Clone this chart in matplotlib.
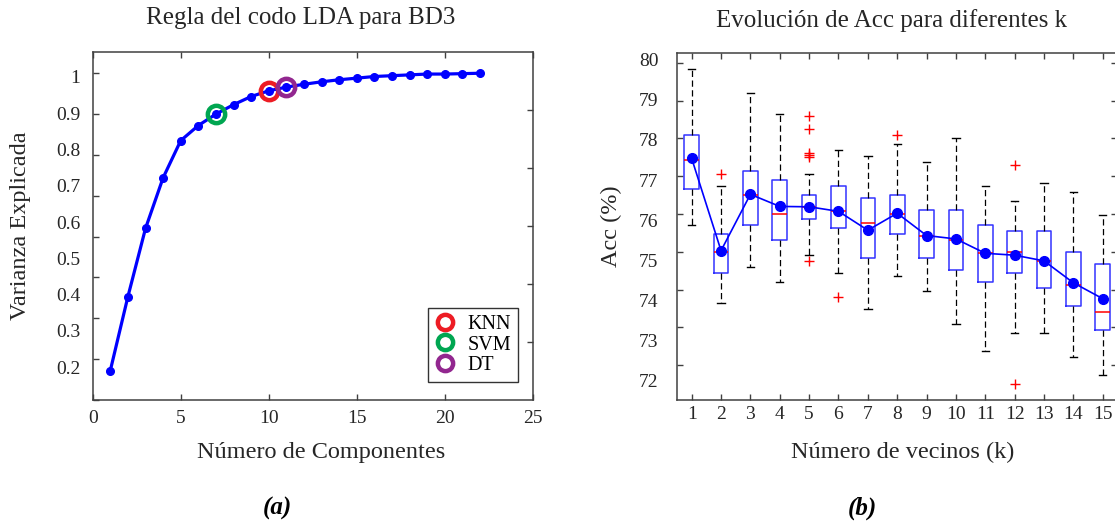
import matplotlib
matplotlib.use("Agg")
import matplotlib.pyplot as plt
from matplotlib.lines import Line2D
import numpy as np

plt.rcParams['font.family'] = ['Liberation Serif', 'DejaVu Serif']
plt.rcParams['axes.linewidth'] = 1.1

# ---- (a) cumulative explained variance of the LDA components on BD3 ----
componentes = list(range(1, 23))
varianza = [0.272, 0.453, 0.620, 0.744, 0.835, 0.872, 0.900, 0.923, 0.943,
            0.957, 0.966, 0.973, 0.979, 0.984, 0.988, 0.992, 0.994, 0.996,
            0.998, 0.998, 0.999, 1.000]
clasificadores = ['KNN', 'SVM', 'DT']
comp_elegidos = [10, 7, 11]
colores_clasif = ['#ED1C24', '#00A651', '#92278F']
ticks_x_a = [0, 5, 10, 15, 20, 25]
ticks_y_a = [0.2, 0.3, 0.4, 0.5, 0.6, 0.7, 0.8, 0.9, 1.0]
etiquetas_y_a = ['0.2', '0.3', '0.4', '0.5', '0.6', '0.7', '0.8', '0.9', '1']

# ---- (b) accuracy distribution over repetitions for each k ----
vecinos = list(range(1, 16))
acc_bigote_sup = [79.83, 76.75, 79.21, 78.65, 77.05, 77.70, 77.53, 77.85,
                  77.37, 78.00, 76.75, 76.34, 76.82, 76.58, 75.97]
acc_q3 = [78.09, 75.46, 77.13, 76.89, 76.49, 76.74, 76.42, 76.49,
          76.10, 76.10, 75.71, 75.55, 75.55, 75.00, 74.67]
acc_mediana = [77.42, 75.00, 76.51, 76.00, 76.19, 76.09, 75.75, 76.00,
               75.43, 75.31, 74.98, 75.00, 74.76, 74.12, 73.40]
acc_q1 = [76.66, 74.43, 75.71, 75.31, 75.86, 75.62, 74.83, 75.46,
          74.83, 74.52, 74.19, 74.44, 74.04, 73.57, 72.93]
acc_bigote_inf = [75.71, 73.64, 74.59, 74.19, 74.92, 74.43, 73.49, 74.35,
                  73.97, 73.09, 72.38, 72.85, 72.85, 72.21, 71.74]
acc_media = [77.47, 75.03, 76.52, 76.20, 76.19, 76.07, 75.57, 76.02,
             75.43, 75.34, 74.96, 74.91, 74.76, 74.18, 73.76]
acc_atipicos = [[], [77.05], [], [], [78.58, 78.26, 77.61, 77.55, 77.52, 74.76],
                [73.81], [], [78.09], [], [], [], [77.29, 71.50], [], [], []]
ticks_y_b = [72, 73, 74, 75, 76, 77, 78, 79, 80]

W, H = 1115, 524
fig = plt.figure(figsize=(W / 100, H / 100), dpi=100)
gris = '#404040'
txt = '#262626'


def rect(x0, y_top, x1, y_bot):
    return [x0 / W, 1 - y_bot / H, (x1 - x0) / W, (y_bot - y_top) / H]


def etiquetas_eje_y(ax, lim, valores, textos, pad, ylabel, xlab):
    """Left-hand tick labels drawn on an overlaid axis."""
    lab = ax.twinx()
    lab.set_ylim(*lim)
    lab.yaxis.tick_left()
    lab.yaxis.set_label_position('left')
    lab.set_yticks(valores)
    lab.set_yticklabels(textos)
    lab.tick_params(axis='y', length=0, pad=pad, labelsize=14, labelcolor=txt)
    for s in lab.spines.values():
        s.set_visible(False)
    lab.set_ylabel(ylabel, fontsize=17.5, color=txt)
    lab.yaxis.set_label_coords(xlab, 0.5)
    return lab


# ================= panel (a) =================
ax1 = fig.add_axes(rect(92.7, 52, 532.7, 400))
ax1.plot(componentes, varianza, '-o', color='#0000FF', lw=2.3, ms=5.5, zorder=3)
for nombre, comp, col in zip(clasificadores, comp_elegidos, colores_clasif):
    ax1.plot([comp], [varianza[comp - 1]], 'o', ms=12.5, mfc='none', mec=col,
             mew=3.2, zorder=4, label=nombre)
ax1.set_xlim(0, 25)
ax1.set_ylim(0.2, 1.052)
ax1.set_xticks(ticks_x_a)
ax1.set_yticks(ticks_y_a)
ax1.tick_params(direction='in', length=4, width=1, color=gris, top=True,
                labelleft=False, labelsize=14, labelcolor=txt)
ax1.tick_params(axis='x', pad=7)
for s in ax1.spines.values():
    s.set_color(gris)
ax1.set_xlabel('Número de Componentes', fontsize=17.5, color=txt)
ax1.xaxis.set_label_coords(0.519, -0.12)
ax1.set_title('Regla del codo LDA para BD3', fontsize=18, color=txt,
              x=0.472, y=1.0977, pad=0, va='center')

etiquetas_eje_y(ax1, (0.110, 1.068), ticks_y_a, etiquetas_y_a, 9,
                'Varianza Explicada', -0.14)

der1 = ax1.twinx()
der1.set_ylim(0, 6)
der1.set_yticks([1, 2, 3, 4, 5])
der1.tick_params(direction='in', length=4, width=1, color=gris, labelright=False)
for s in der1.spines.values():
    s.set_visible(False)

handles = [Line2D([], [], ls='none', marker='o', ms=11, mfc='none', mec=c,
                  mew=3.2) for c in colores_clasif]
leg = ax1.legend(handles, clasificadores, loc='lower right',
                 bbox_to_anchor=(0.967, 0.0526), borderaxespad=0,
                 fontsize=14.5, frameon=True, fancybox=False, edgecolor='black',
                 handlelength=1.0, handletextpad=0.6, labelspacing=0.05,
                 borderpad=0.35)
leg.get_frame().set_linewidth(1.0)
leg.set_zorder(10)

# ================= panel (b) =================
ax2 = fig.add_axes(rect(677.0, 53.3, 1117.4, 400))
stats = []
for k, lo, q1, med, q3, hi, fl in zip(vecinos, acc_bigote_inf, acc_q1,
                                       acc_mediana, acc_q3, acc_bigote_sup,
                                       acc_atipicos):
    stats.append(dict(label=str(k), whislo=lo, q1=q1, med=med, q3=q3,
                      whishi=hi, fliers=np.array(fl)))
ax2.bxp(stats, positions=vecinos, widths=0.5, capwidths=0.25,
        manage_ticks=False,
        boxprops=dict(color='#3333FF', lw=1.1),
        medianprops=dict(color='#FF0000', lw=1.1),
        whiskerprops=dict(color='black', lw=0.9, ls=(0, (5, 2.8))),
        capprops=dict(color='black', lw=1.0),
        flierprops=dict(marker='+', markeredgecolor='#FF0000', ms=6.5,
                        mew=1.0, ls='none'))
ax2.plot(vecinos, acc_media, '-o', color='#0000FF', lw=1.2, ms=7, zorder=5)
ax2.set_xlim(0.5, 15.5)
ax2.set_ylim(71.08, 80.25)
ax2.set_xticks(vecinos)
ax2.set_yticks(ticks_y_b)

etiquetas_eje_y(ax2, (71.527, 80.154), ticks_y_b, [str(v) for v in ticks_y_b],
                13.5, 'Acc (%)', -0.125)

ax2.tick_params(direction='in', length=4, width=1, color=gris, top=True,
                right=True, labelleft=False, labelright=False, labelsize=14,
                labelcolor=txt)
ax2.tick_params(axis='x', pad=4)
for s in ax2.spines.values():
    s.set_color(gris)
ax2.set_xlabel('Número de vecinos (k)', fontsize=17.5, color=txt)
ax2.xaxis.set_label_coords(0.513, -0.12)
ax2.set_title('Evolución de Acc para diferentes k', fontsize=18, color=txt,
              x=0.488, y=1.096, pad=0, va='center')

fig.text(277 / W, 1 - 508 / H, '(a)', ha='center', va='center', fontsize=18,
         fontweight='bold', fontstyle='italic')
fig.text(862 / W, 1 - 508 / H, '(b)', ha='center', va='center', fontsize=18,
         fontweight='bold', fontstyle='italic')

fig.savefig('out.png', dpi=100)
